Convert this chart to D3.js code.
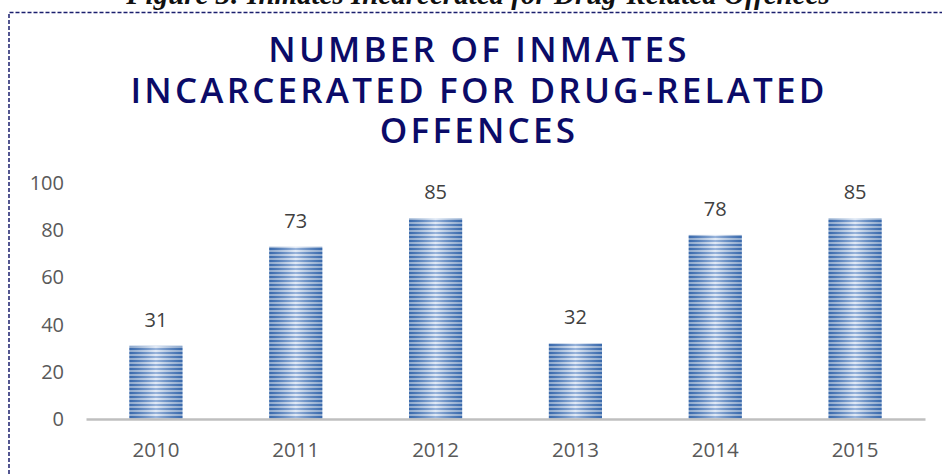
<!DOCTYPE html>
<html>
<head>
<meta charset="utf-8">
<script src="https://cdn.jsdelivr.net/npm/d3@7"></script>
<style>
	body { margin: 0; background: #fff; }
	svg { display: block; }
</style>
</head>
<body>
<svg id="chart" width="942" height="475"></svg>
<script>
const years = ['2010', '2011', '2012', '2013', '2014', '2015'];
const inmates = [31, 73, 85, 32, 78, 85];
const yTicks = [0, 20, 40, 60, 80, 100];
const titleLines = ['NUMBER OF INMATES', 'INCARCERATED FOR DRUG-RELATED', 'OFFENCES'];
const caption = 'Figure 3: Inmates Incarcerated for Drug-Related Offences';

const svg = d3.select('#chart');
const defs = svg.append('defs');

// stripes like the office "horizontal lines" fill
const stripes = defs.append('pattern')
	.attr('id', 'stripes')
	.attr('patternUnits', 'userSpaceOnUse')
	.attr('width', 8).attr('height', 4);
stripes.append('rect').attr('width', 8).attr('height', 4).attr('fill', '#c9d9ef');
stripes.append('rect').attr('width', 8).attr('height', 2).attr('fill', '#4677bd');

const shine = defs.append('linearGradient')
	.attr('id', 'shine')
	.attr('x1', 0).attr('x2', 1).attr('y1', 0).attr('y2', 0);
shine.append('stop').attr('offset', '0%').attr('stop-color', '#1f4e8c').attr('stop-opacity', 0.35);
shine.append('stop').attr('offset', '50%').attr('stop-color', '#ffffff').attr('stop-opacity', 0.45);
shine.append('stop').attr('offset', '100%').attr('stop-color', '#1f4e8c').attr('stop-opacity', 0.35);

// caption of the figure, cut by the top of the picture
svg.append('text')
	.attr('x', 478).attr('y', 4)
	.attr('text-anchor', 'middle')
	.attr('font-family', 'Liberation Serif, serif')
	.attr('font-style', 'italic')
	.attr('font-weight', 'bold')
	.attr('font-size', 29)
	.attr('fill', '#111')
	.text(caption);

// dashed frame
svg.append('path')
	.attr('d', 'M9,480 V12.5 H945')
	.attr('fill', 'none')
	.attr('stroke', '#1b1f6e')
	.attr('stroke-width', 1.5)
	.attr('stroke-dasharray', '4,2');

svg.append('g')
	.selectAll('text')
	.data(titleLines)
	.join('text')
	.attr('x', 479)
	.attr('y', (d, i) => 62 + i * 40.5)
	.attr('text-anchor', 'middle')
	.attr('font-family', 'Open Sans, sans-serif')
	.attr('font-weight', 600)
	.attr('font-size', 35)
	.attr('letter-spacing', 3.2)
	.attr('fill', '#0b0b68')
	.text((d) => d);

const x = d3.scaleBand()
	.domain(years)
	.range([86, 925])
	.paddingInner(0.62)
	.paddingOuter(0.31);

const y = d3.scaleLinear()
	.domain([0, 100])
	.range([419, 183]);

const yAxis = svg.append('g')
	.attr('transform', 'translate(64,0)')
	.call(d3.axisLeft(y).tickValues(yTicks).tickSize(0).tickPadding(0));
yAxis.select('.domain').remove();
yAxis.selectAll('text')
	.attr('font-family', 'Open Sans, sans-serif')
	.attr('font-size', 20)
	.attr('fill', '#595959');

const bars = svg.append('g');
bars.selectAll('rect.bar')
	.data(inmates)
	.join('rect')
	.attr('class', 'bar')
	.attr('x', (d, i) => x(years[i]))
	.attr('y', (d) => y(d))
	.attr('width', x.bandwidth())
	.attr('height', (d) => y(0) - y(d))
	.attr('fill', 'url(#stripes)');
bars.selectAll('rect.shine')
	.data(inmates)
	.join('rect')
	.attr('class', 'shine')
	.attr('x', (d, i) => x(years[i]))
	.attr('y', (d) => y(d))
	.attr('width', x.bandwidth())
	.attr('height', (d) => y(0) - y(d))
	.attr('fill', 'url(#shine)');

svg.append('g')
	.selectAll('text')
	.data(inmates)
	.join('text')
	.attr('x', (d, i) => x(years[i]) + x.bandwidth() / 2)
	.attr('y', (d) => y(d) - 19)
	.attr('text-anchor', 'middle')
	.attr('font-family', 'Open Sans, sans-serif')
	.attr('font-size', 20)
	.attr('fill', '#404040')
	.text((d) => d);

const xAxis = svg.append('g')
	.attr('transform', 'translate(0,' + y(0) + ')')
	.call(d3.axisBottom(x).tickSize(0).tickPadding(23));
xAxis.select('.domain')
	.attr('stroke', '#bfbfbf')
	.attr('stroke-width', 2.5);
xAxis.selectAll('text')
	.attr('font-family', 'Open Sans, sans-serif')
	.attr('font-size', 20.5)
	.attr('fill', '#595959');
</script>
</body>
</html>
